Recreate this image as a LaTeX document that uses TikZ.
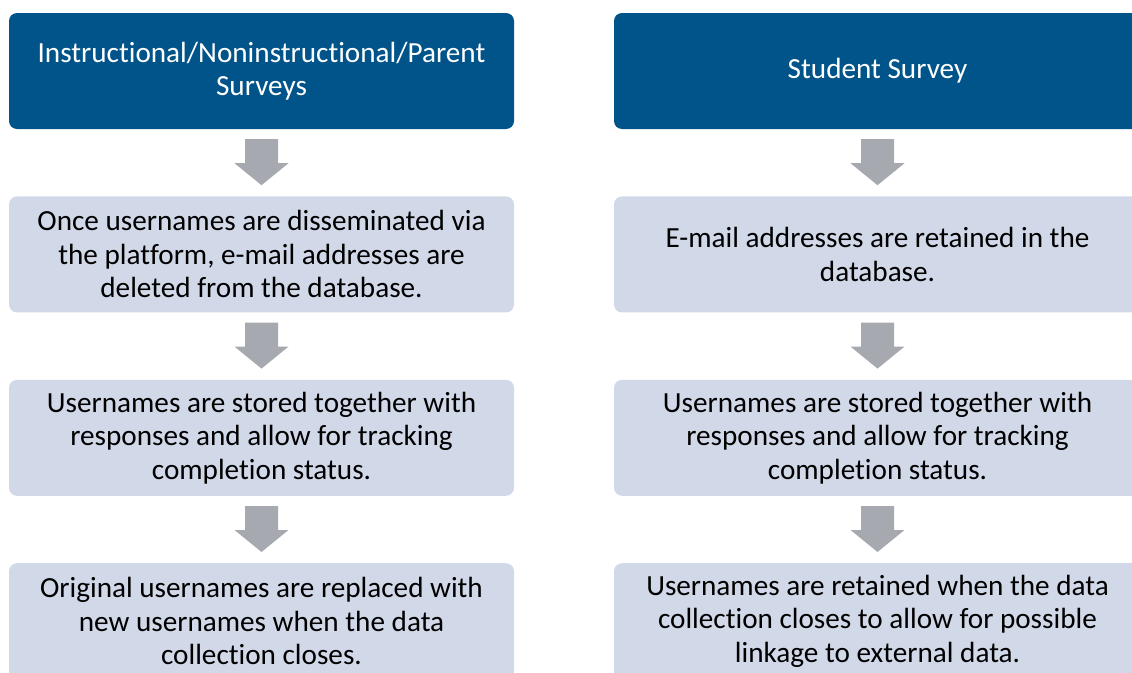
\documentclass[tikz,border=0pt]{standalone}
\usepackage{fontspec}
\setmainfont{Carlito}[Ligatures=NoCommon]
\usetikzlibrary{positioning,calc}
\definecolor{headblue}{HTML}{00548A}
\definecolor{stepfill}{HTML}{D1D8E8}
\definecolor{arrowgray}{HTML}{A7A9B0}

\begin{document}
\begin{tikzpicture}[
    x=1pt, y=1pt,
    node distance=67pt,
    every node/.style={font=\fontsize{29.2}{33.5}\selectfont, align=center, inner sep=0pt},
    head/.style={fill=headblue, text=white, rounded corners=8pt, minimum height=116pt},
    stepbox/.style={fill=stepfill, rounded corners=8pt, minimum height=116pt},
    leftcol/.style={minimum width=505pt},
    rightcol/.style={minimum width=527pt},
    blockarrow/.style={fill=arrowgray, to path={let \p1=(\tikztostart), \p2=(\tikztotarget) in
        (\x1-16.5pt,\y1-10pt) -- (\x1+16.5pt,\y1-10pt) -- (\x1+16.5pt,\y2+33pt) -- (\x1+27pt,\y2+33pt)
        -- (\x1,\y2+11pt) -- (\x1-27pt,\y2+33pt) -- (\x1-16.5pt,\y2+33pt) -- cycle}}
]
\useasboundingbox (0,0) rectangle (1132,-672);
\clip (0,0) rectangle (1132,-672);
% left column
\node[head, leftcol] (headL) at (261.5,-71) {Instructional/Noninstructional/Parent\\Surveys};
\node[stepbox, leftcol, below=of headL] (L1) {Once usernames are disseminated via\\the platform, e-mail addresses are\\deleted from the database.};
\node[stepbox, leftcol, below=of L1] (L2) {Usernames are stored together with\\responses and allow for tracking\\completion status.};
\node[stepbox, leftcol, below=of L2] (L3) {Original usernames are replaced with\\new usernames when the data\\collection closes.};
% right column
\node[head, rightcol] (headR) at (877.5,-71) {Student Survey};
\node[stepbox, rightcol, below=of headR] (R1) {E-mail addresses are retained in the\\database.};
\node[stepbox, rightcol, below=of R1] (R2) {Usernames are stored together with\\responses and allow for tracking\\completion status.};
\node[stepbox, rightcol, below=of R2] (R3) {Usernames are retained when the data\\collection closes to allow for possible\\linkage to external data.};
% arrows
\foreach \a/\b in {headL/L1, L1/L2, L2/L3, headR/R1, R1/R2, R2/R3}
    \path[blockarrow] (\a.south) to (\b.north);
\end{tikzpicture}
\end{document}
